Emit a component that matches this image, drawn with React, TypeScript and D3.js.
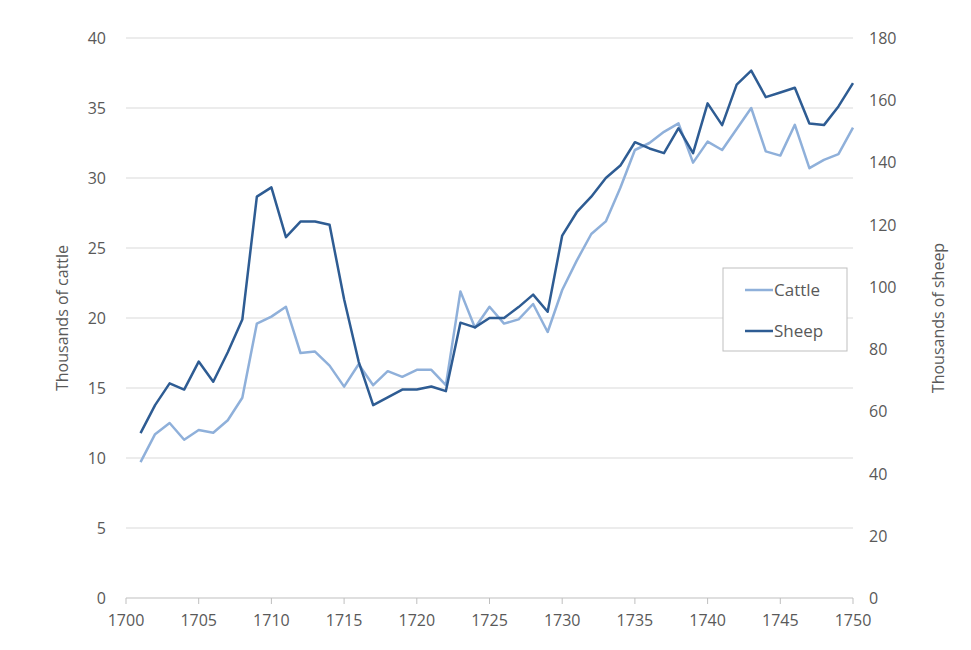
import * as d3 from 'd3';
import React from 'react';

const years = d3.range(1701, 1751);
const cattle = [9.7, 11.7, 12.5, 11.3, 12.0, 11.8, 12.7, 14.3, 19.6, 20.1, 20.8, 17.5, 17.6, 16.6, 15.1, 16.7, 15.2, 16.2, 15.8, 16.3, 16.3, 15.2, 21.9, 19.3, 20.8, 19.6, 19.9, 21.0, 19.0, 22.0, 24.1, 26.0, 26.9, 29.3, 32.0, 32.5, 33.3, 33.9, 31.1, 32.6, 32.0, 33.5, 35.0, 31.9, 31.6, 33.8, 30.7, 31.3, 31.7, 33.6];
const sheep = [53, 62, 69, 67, 76, 69.5, 79, 89.5, 129, 132, 116, 121, 121, 120, 96, 76, 62, 64.5, 67, 67, 68, 66.5, 88.5, 87, 90, 90, 93.5, 97.5, 92, 116.5, 124, 129, 135, 139, 146.5, 144.5, 143, 151, 143, 159, 152, 165, 169.5, 161, 162.5, 164, 152.5, 152, 158, 165.5];
const xTicks = d3.range(1700, 1751, 5);
const leftTicks = d3.range(0, 41, 5);
const rightTicks = d3.range(0, 181, 20);

const W = 971, H = 650;
const m = { left: 126, right: 118, top: 38, bottom: 52 };

export default function App() {
  const x = d3.scaleLinear().domain([1700, 1750]).range([m.left, W - m.right]);
  const yL = d3.scaleLinear().domain([0, 40]).range([H - m.bottom, m.top]);
  const yR = d3.scaleLinear().domain([0, 180]).range([H - m.bottom, m.top]);
  const lineC = d3.line<number>().x((_, i) => x(years[i])).y(d => yL(d));
  const lineS = d3.line<number>().x((_, i) => x(years[i])).y(d => yR(d));
  const font = "'Open Sans', sans-serif";
  const grey = '#595959';
  const y0 = H - m.bottom;
  return (
    <svg width={W} height={H} style={{ position: 'absolute', left: 0, top: 0 }} fontFamily={font}>
      <rect width={W} height={H} fill="#fff" />
      {leftTicks.slice(1).map(t => (
        <line key={t} x1={m.left} x2={W - m.right} y1={yL(t)} y2={yL(t)} stroke="#d9d9d9" strokeWidth={1} />
      ))}
      <line x1={m.left} x2={W - m.right} y1={y0} y2={y0} stroke="#bfbfbf" />
      {xTicks.map(t => (
        <g key={t}>
          <line x1={x(t)} x2={x(t)} y1={y0} y2={y0 + 6} stroke="#bfbfbf" />
          <text x={x(t)} y={y0 + 28} textAnchor="middle" fontSize={16} fill={grey}>{t}</text>
        </g>
      ))}
      {leftTicks.map(t => (
        <text key={t} x={m.left - 20} y={yL(t) + 6} textAnchor="end" fontSize={16} fill={grey}>{t}</text>
      ))}
      {rightTicks.map(t => (
        <text key={t} x={W - m.right + 16} y={yR(t) + 6} textAnchor="start" fontSize={16} fill={grey}>{t}</text>
      ))}
      <text transform={`translate(68,${(m.top + y0) / 2}) rotate(-90)`} textAnchor="middle" fontSize={16} fill={grey}>Thousands of cattle</text>
      <text transform={`translate(944,${(m.top + y0) / 2}) rotate(-90)`} textAnchor="middle" fontSize={16} fill={grey}>Thousands of sheep</text>
      <path d={lineC(cattle) || ''} fill="none" stroke="#8fb0da" strokeWidth={2.5} strokeLinejoin="round" />
      <path d={lineS(sheep) || ''} fill="none" stroke="#2e5c93" strokeWidth={2.5} strokeLinejoin="round" />
      <g transform="translate(723,268)">
        <rect width={124} height={83} fill="#fff" stroke="#bfbfbf" />
        <line x1={22} x2={50} y1={22} y2={22} stroke="#8fb0da" strokeWidth={2.5} />
        <text x={51} y={28} fontSize={17} fill={grey}>Cattle</text>
        <line x1={22} x2={50} y1={63} y2={63} stroke="#2e5c93" strokeWidth={2.5} />
        <text x={51} y={69} fontSize={17} fill={grey}>Sheep</text>
      </g>
    </svg>
  );
}
